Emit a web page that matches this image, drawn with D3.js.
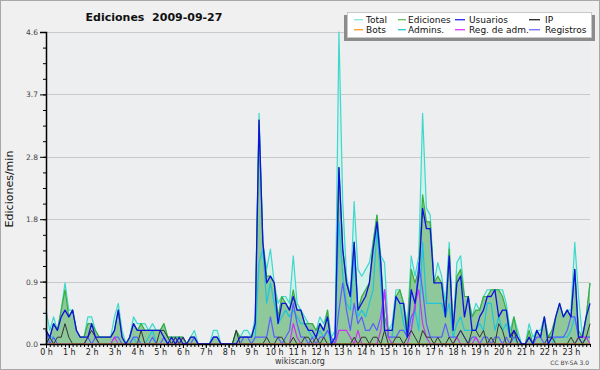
<!DOCTYPE html>
<html><head><meta charset="utf-8">
<script src="https://cdn.jsdelivr.net/npm/d3@7/dist/d3.min.js"></script>
<style>body{margin:0;background:#f0f0f0} svg{display:block}</style>
</head><body>
<svg id="c" width="600" height="370"></svg>
<script>
// ---- data: 10-minute buckets, edits per minute ----
const hourLabels = d3.range(24).map(h => h + " h");
const yTickLabels = ["0.0","0.9","1.8","2.8","3.7","4.6"];

const total = [
0.5,0.2,0.4,0.2,0.5,0.9,0.5,0.5,0.2,0.1,
0.1,0.4,0.4,0.2,0.1,0.1,0.1,0.1,0.4,0.6,
0.2,0,0.1,0.4,0.3,0.3,0.3,0.2,0.3,0.2,
0.2,0.3,0.1,0.1,0.1,0.1,0.1,0,0.1,0.2,
0,0,0,0,0.2,0.2,0,0,0,0,
0.2,0.1,0.2,0.2,0.1,0.4,3.4,1.5,1.1,1.4,
0.9,0.6,0.7,0.7,0.6,1.3,0.6,0.5,0.4,0.3,
0.3,0.2,0.4,0.3,0.5,0.1,0.2,4.6,2.1,1.0,
0.7,2.1,1.1,1.0,1.1,1.2,1.5,1.9,1.3,1.2,
0.2,0.3,0.8,0.8,0.6,0.3,1.3,1.0,1.3,3.4,
2.0,1.9,0.9,1.2,1.0,0.6,1.5,0.2,1.2,1.3,
0.7,0.7,0.4,0.6,0.5,0.7,0.8,0.8,0.8,0.8,
0.8,0.6,0.2,0.4,0.2,0,0,0.3,0.1,0.2,
0.2,0.4,0.1,0.2,0.4,0.6,0.4,0.5,0.5,1.5,
0.7,0.1,0.4,0.9];

const ediciones = [
0.2,0.1,0.3,0.2,0.5,0.8,0.4,0.5,0.2,0.1,
0.1,0.3,0.3,0.2,0.1,0.1,0.1,0.1,0.2,0.5,
0.1,0,0.1,0.3,0.2,0.3,0.2,0.2,0.2,0.2,
0.2,0.3,0.1,0.1,0.1,0.1,0.1,0,0.1,0.1,
0,0,0,0,0.1,0.1,0,0,0,0,
0.2,0.1,0.1,0.1,0.1,0.3,3.3,1.5,1.0,1.0,
0.9,0.4,0.7,0.6,0.5,0.8,0.5,0.5,0.3,0.3,
0.3,0.2,0.3,0.2,0.5,0,0.1,2.6,1.4,0.9,
0.7,1.5,0.5,0.7,0.8,0.9,1.5,1.9,1.2,0.4,
0.2,0.2,0.7,0.8,0.6,0.2,1.1,0.9,1.1,2.2,
1.8,1.8,0.9,1.0,0.9,0.4,1.4,0.2,1.0,1.1,
0.7,0.7,0.4,0.5,0.5,0.7,0.7,0.8,0.8,0.8,
0.7,0.5,0.1,0.4,0.1,0,0,0.2,0,0.2,
0.1,0.4,0.1,0.2,0.4,0.6,0.4,0.5,0.4,1.1,
0.2,0.1,0.4,0.9];

const usuarios = [
0.2,0.1,0.3,0.2,0.4,0.5,0.4,0.5,0.2,0.1,
0.1,0.1,0.3,0.1,0.1,0.1,0.1,0.1,0.2,0.5,
0.1,0,0.1,0.3,0.2,0.2,0.2,0.2,0.2,0.2,
0.2,0.1,0,0.1,0,0.1,0,0,0.1,0.1,
0,0,0,0,0.1,0.1,0,0,0,0,
0,0.1,0.1,0.1,0.1,0.3,3.3,1.5,0.9,1.0,
0.9,0.3,0.6,0.6,0.5,0.7,0.5,0.5,0.3,0.2,
0.2,0.1,0.3,0.2,0.4,0,0.1,2.6,1.4,0.9,
0.7,1.5,0.5,0.6,0.7,0.9,1.4,1.8,1.2,0.2,
0.2,0.2,0.7,0.6,0.6,0.1,0.8,0.6,1.0,2.0,
1.7,1.7,0.9,0.9,0.9,0.4,1.3,0.2,0.9,1.0,
0.4,0.7,0.2,0.2,0.4,0.5,0.7,0.7,0.8,0.4,
0.5,0.5,0.1,0.2,0.1,0,0,0.1,0,0.2,
0.1,0.4,0,0.1,0.4,0.6,0.4,0.5,0.4,1.1,
0.1,0.1,0.4,0.6];

const ip = [
0,0.1,0,0.1,0.1,0.3,0.1,0,0,0,
0,0.1,0.2,0.1,0,0,0,0,0,0,
0,0,0,0,0,0.2,0,0,0,0,
0.2,0.2,0.1,0,0.1,0,0.1,0,0,0,
0,0,0,0,0,0,0,0,0,0,
0.2,0,0,0,0,0,0,0,0.1,0,
0,0.1,0.1,0,0,0.1,0,0,0.1,0.1,
0,0.1,0,0.1,0,0,0,0,0,0,
0,0.1,0,0.1,0.1,0,0.1,0.1,0,0.2,
0,0,0.1,0.1,0,0.1,0.2,0.1,0,0.2,
0.1,0.1,0,0.1,0,0,0.1,0,0.1,0.2,
0.1,0,0.2,0.2,0.1,0.2,0,0.1,0,0.3,
0.2,0,0,0.2,0,0,0,0.1,0,0,
0,0,0.1,0.1,0,0,0,0,0.1,0,
0.1,0,0.1,0.3];

const bots = d3.range(144).map(() => 0);

const admins = [
0,0.1,0.1,0,0,0,0,0,0,0,
0,0,0,0,0,0,0,0,0,0,
0,0,0,0.1,0,0,0,0.1,0.2,0,
0,0,0,0,0,0,0,0,0,0,
0,0,0,0,0,0,0,0,0,0,
0,0,0,0,0,0.1,1.2,1.4,0.6,0.9,
0.6,0.3,0.4,0.5,0.4,0.5,0.4,0.3,0.3,0.2,
0.1,0.1,0.2,0.1,0.2,0,0.1,1.8,1.0,0.6,
0.5,1.3,0.4,0.5,0.4,0.6,0.8,1.7,0.9,0.2,
0.1,0.1,0.7,0.6,0.3,0.1,0.2,0.5,0.2,1.5,
0.6,0.6,0.6,0.6,0.6,0.4,0.6,0.1,0.3,0.4,
0.2,0.2,0.2,0.2,0.3,0.2,0.6,0.6,0.2,0.4,
0.2,0.3,0.1,0.1,0,0,0,0,0,0,
0,0,0,0,0.1,0.1,0.1,0.1,0.2,0.4,
0.1,0,0.1,0.1];

const regAdm = [
0,0,0,0,0,0,0,0,0,0,
0,0,0,0,0,0,0,0,0.1,0,
0,0,0,0,0,0,0,0,0,0,
0,0,0,0,0,0,0,0,0,0,
0,0,0,0,0,0,0,0,0,0,
0,0,0,0,0,0,0,0,0,0,
0,0,0,0,0,0.3,0.1,0,0,0,
0,0,0,0,0,0,0,0.2,0.2,0.2,
0.1,0,0.2,0,0,0,0,0,0.2,0.8,
0.1,0,0,0,0,0,0.2,0.6,0.8,0.3,
0.1,0,0,0,0,0,0,0,0.1,0,
0,0,0,0.1,0,0,0,0,0,0,
0,0,0,0,0,0,0,0,0,0,
0,0,0,0,0,0,0,0,0,0,
0.1,0.1,0.1,0];

const registros = [
0.2,0,0.1,0,0,0,0,0,0,0,
0,0.1,0,0.1,0,0,0,0,0.1,0.1,
0,0,0,0.1,0.1,0,0,0,0.1,0,
0,0.1,0,0,0.1,0,0.1,0,0,0.1,
0,0,0,0,0.1,0.1,0,0,0,0,
0,0,0.1,0.1,0,0.1,0.1,0.1,0.1,0.4,
0.1,0.1,0,0.1,0.2,0.6,0.3,0.1,0.1,0,
0.1,0,0.1,0.1,0.2,0.1,0,0.5,0.9,0.5,
0.2,0.6,0.3,0.4,0.2,0.2,0.3,0.2,0.4,0.8,
0.1,0.1,0.1,0.2,0.2,0.1,0.4,0.5,1.2,0.8,
0.3,0.1,0.1,0.1,0.1,0.3,0.1,0.1,0.1,0.2,
0.1,0,0.1,0.1,0,0.1,0.1,0,0.1,0.1,
0,0.1,0,0.1,0.1,0,0,0.1,0,0.1,
0.1,0,0,0.1,0.1,0.1,0.1,0.2,0.4,0.4,
0.1,0,0.1,0.1];

const seriesNames = ["Total","Ediciones","Usuarios","IP","Bots","Admins.","Reg. de adm.","Registros"];
const seriesColors = ["#3fd8cc","#3aad3a","#1010e0","#333333","#ff9a1a","#22c4dc","#cc33ee","#5c5cff"];
const legendColors = ["#8ee4e0","#6cc86c","#3333f0","#333333","#ffa030","#33ccdd","#dd44ff","#7777ff"];

// ---- drawing ----
const svg = d3.select("#c");
const W = 600, H = 370;
const L = 46, R = 590, T = 32, B = 344;

svg.append("rect").attr("x",0.5).attr("y",0.5).attr("width",W-1).attr("height",H-1)
  .attr("fill","#f0f0f0").attr("stroke","#a8a8a8");
svg.append("rect").attr("x",L).attr("y",T).attr("width",R-L).attr("height",B-T).attr("fill","#eceef0");

const x = d3.scaleLinear().domain([0,143]).range([L,R]);
const y = d3.scaleLinear().domain([0,4.6]).range([B,T]);
const major = d3.range(6).map(k => 4.6*k/5);
const minor = d3.range(21).map(k => 4.6*k/20);

// gridlines
svg.append("g").selectAll("line").data(major.slice(1)).join("line")
  .attr("x1",L).attr("x2",R).attr("y1",d=>Math.round(y(d))+0.5).attr("y2",d=>Math.round(y(d))+0.5)
  .attr("stroke","#c9c9c9").attr("stroke-width",1);

const area = d3.area().x((d,i)=>x(i)).y0(y(0)).y1(d=>y(d));
const line = d3.line().x((d,i)=>x(i)).y(d=>y(d));

svg.append("path").datum(total).attr("d",area).attr("fill","#d3f0eb");
svg.append("path").datum(ediciones).attr("d",area).attr("fill","#8fc89a");

const drawOrder = [
  [total,0,1.2],[ediciones,1,1.2],[admins,5,1.2],[registros,7,1.2],
  [regAdm,6,1.2],[ip,3,1.0],[bots,4,1.2],[usuarios,2,1.3]
];
drawOrder.forEach(([data,ci,w]) => {
  svg.append("path").datum(data).attr("d",line).attr("fill","none")
    .attr("stroke",seriesColors[ci]).attr("stroke-width",w).attr("stroke-linejoin","round");
});

// y axis
const yAxis = d3.axisLeft(y).tickValues(major).tickFormat((d,i)=>yTickLabels[i]).tickSize(6).tickPadding(2);
const gy = svg.append("g").attr("transform",`translate(${L},0)`).call(yAxis);
gy.select(".domain").attr("stroke","#000").attr("stroke-width",1.5);
gy.selectAll(".tick line").attr("stroke","#000");
gy.selectAll("text").attr("font-family","DejaVu Sans").attr("font-size",7.5).attr("fill","#444");
const gym = svg.append("g").attr("transform",`translate(${L},0)`)
  .call(d3.axisLeft(y).tickValues(minor).tickFormat("").tickSize(3));
gym.select(".domain").remove();
gym.selectAll(".tick line").attr("stroke","#000");

// x axis
const xAxis = d3.axisBottom(x).tickValues(d3.range(24).map(h=>h*6)).tickFormat((d,i)=>hourLabels[i]).tickSize(4).tickPadding(1);
const gx = svg.append("g").attr("transform",`translate(0,${B})`).call(xAxis);
gx.select(".domain").attr("stroke","#000").attr("stroke-width",1.5).attr("d",`M${L},0.5H${R}`);
gx.selectAll(".tick line").attr("stroke","#000");
gx.selectAll("text").attr("font-family","DejaVu Sans").attr("font-size",8).attr("fill","#222");
const gxm = svg.append("g").attr("transform",`translate(0,${B})`)
  .call(d3.axisBottom(x).tickValues(d3.range(144)).tickFormat("").tickSize(3));
gxm.select(".domain").remove();
gxm.selectAll(".tick line").attr("stroke","#000");

// texts
svg.append("text").attr("x",154).attr("y",21).attr("text-anchor","middle")
  .attr("font-family","DejaVu Sans").attr("font-weight","bold").attr("font-size",11).attr("fill","#111")
  .style("white-space","pre").text("Ediciones  2009-09-27");
svg.append("text").attr("transform","translate(13,189) rotate(-90)").attr("text-anchor","middle")
  .attr("font-family","DejaVu Sans").attr("font-size",11).attr("fill","#111").text("Ediciones/min");
svg.append("text").attr("x",300).attr("y",364).attr("text-anchor","middle")
  .attr("font-family","DejaVu Sans").attr("font-size",8).attr("fill","#333").text("wikiscan.org");
svg.append("text").attr("x",589).attr("y",365).attr("text-anchor","end")
  .attr("font-family","DejaVu Sans").attr("font-size",6).attr("fill","#444").text("CC BY-SA 3.0");

// legend
const lg = svg.append("g");
lg.append("rect").attr("x",344).attr("y",15).attr("width",251).attr("height",26).attr("fill","#8c8c8c");
lg.append("rect").attr("x",347.5).attr("y",12.5).attr("width",244).attr("height",25).attr("fill","#fff").attr("stroke","#c8c8c8");
const colX = [[354,363,366],[398,406,408],[455,465,469],[529,540,545]];
seriesNames.forEach((n,i) => {
  const c = i % 4, r = Math.floor(i/4);
  const ly = r ? 29 : 19;
  lg.append("rect").attr("x",colX[c][0]).attr("y",ly).attr("width",colX[c][1]-colX[c][0]).attr("height",1.4)
    .attr("fill",legendColors[i]);
  lg.append("text").attr("x",colX[c][2]).attr("y",r ? 33 : 23)
    .attr("font-family","DejaVu Sans").attr("font-size",9).attr("fill","#111").text(n);
});
</script>
</body></html>
